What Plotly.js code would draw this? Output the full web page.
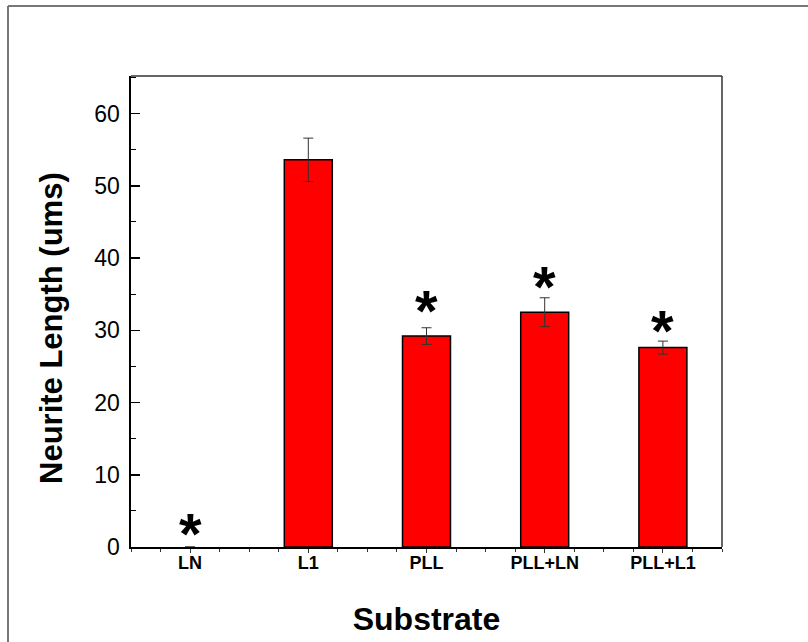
<!DOCTYPE html>
<html>
<head>
<meta charset="utf-8">
<script src="https://cdn.plot.ly/plotly-3.0.1.min.js"></script>
<style>html,body{margin:0;padding:0;background:#fff;}#chart{width:808px;height:642px;}</style>
</head>
<body>
<div id="chart"></div>
<script>
const categories = ["LN", "L1", "PLL", "PLL+LN", "PLL+L1"];
const neuriteLength = [0, 53.6, 29.2, 32.5, 27.6];
const errorValues = [0, 3.0, 1.15, 2.0, 0.9];
const significant = [true, false, true, true, true];
const starLevel = [3.0, null, 33.9, 37.2, 31.1];
const yTicks = [0, 10, 20, 30, 40, 50, 60];

const xIdx = categories.map((c, i) => i);
const starSize = 58;

const trace = {
  type: "bar",
  x: xIdx,
  y: neuriteLength,
  width: 0.406,
  marker: {color: "#ff0000", line: {color: "#000000", width: neuriteLength.map(v => v > 0 ? 1.5 : 0)}},
  error_y: {type: "data", array: errorValues, visible: true, color: "#333333", thickness: 1, width: 5},
  hoverinfo: "skip"
};

const annotations = [];
categories.forEach((c, i) => {
  if (significant[i]) {
    annotations.push({
      x: i, y: starLevel[i], xref: "x", yref: "y",
      text: "<b>*</b>", showarrow: false, yanchor: "middle", xanchor: "center",
      font: {family: "Liberation Sans, Arial, sans-serif", size: starSize, color: "#000"},
      yshift: -8.5
    });
  }
});
annotations.push({
  xref: "paper", yref: "paper", x: (51 - 131) / 591, y: (547 - 328) / 471,
  text: "<b>Neurite Length (ums)</b>", textangle: -90, showarrow: false,
  xanchor: "center", yanchor: "middle",
  font: {family: "Liberation Sans, Arial, sans-serif", size: 31, color: "#000"}
});

const layout = {
  width: 808, height: 642,
  margin: {l: 131, r: 86, t: 76, b: 95},
  paper_bgcolor: "#ffffff", plot_bgcolor: "#ffffff",
  showlegend: false,
  font: {family: "Liberation Sans, Arial, sans-serif", color: "#000"},
  xaxis: {
    range: [-0.5, 4.5],
    tickmode: "array", tickvals: xIdx, ticktext: categories,
    ticks: "outside", ticklen: 4, tickwidth: 1, tickcolor: "#333",
    minor: {dtick: 0.25, tick0: 0, ticks: "outside", ticklen: 3, tickwidth: 1, tickcolor: "#333"},
    tickfont: {size: 18, family: "Liberation Sans, Arial, sans-serif", weight: "bold"},
    ticklabelstandoff: -6,
    showline: true, linecolor: "#000", linewidth: 2, mirror: false,
    showgrid: false, zeroline: false,
    title: {text: "<b>Substrate</b>", font: {size: 32}, standoff: 36}
  },
  yaxis: {
    range: [0, 65.2],
    tickmode: "array", tickvals: yTicks,
    ticks: "inside", ticklen: 9, tickwidth: 1.5, tickcolor: "#000",
    minor: {tickmode: "array", tickvals: [5, 15, 25, 35, 45, 55, 65], ticks: "inside", ticklen: 5, tickwidth: 1, tickcolor: "#000"},
    tickfont: {size: 23},
    ticklabelstandoff: 4,
    showline: true, linecolor: "#000", linewidth: 2.5,
    showgrid: false, zeroline: false
  },
  annotations: annotations,
  shapes: [
    {type: "line", xref: "paper", yref: "paper", x0: 0, x1: 1, y0: 1, y1: 1, line: {color: "#333", width: 1.5}},
    {type: "line", xref: "paper", yref: "paper", x0: 1, x1: 1, y0: 0, y1: 1, line: {color: "#333", width: 1.5}},
    {type: "line", xref: "paper", yref: "paper", x0: -123/591, x1: 677/591, y0: 1 + 70/471, y1: 1 + 70/471, line: {color: "#777", width: 2}},
    {type: "line", xref: "paper", yref: "paper", x0: -123/591, x1: -123/591, y0: 1 + 70/471, y1: -100/471, line: {color: "#777", width: 2}}
  ]
};

Plotly.newPlot("chart", [trace], layout, {displayModeBar: false, staticPlot: true});
</script>
</body>
</html>
